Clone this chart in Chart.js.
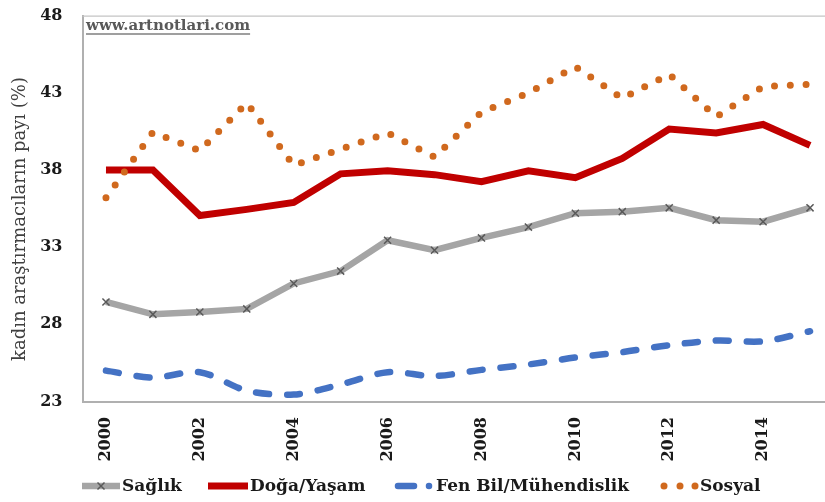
<!DOCTYPE html>
<html><head><meta charset="utf-8">
<script src="https://cdn.jsdelivr.net/npm/chart.js@4.4.0/dist/chart.umd.min.js"></script>
<style>
html,body{margin:0;padding:0;overflow:hidden;background:#fff;width:825px;height:502px}
#wrap{position:absolute;left:0;top:0;width:840px;height:502px}
canvas{display:block}
</style>
</head><body><div id="wrap"><canvas id="c" width="840" height="502"></canvas></div>
<script>
const years = ['2000','2001','2002','2003','2004','2005','2006','2007','2008','2009','2010','2011','2012','2013','2014','2015'];
const saglik = [29.45, 28.65, 28.8, 29.0, 30.65, 31.45, 33.45, 32.8, 33.6, 34.3, 35.2, 35.3, 35.55, 34.75, 34.65, 35.55];
const doga   = [38.0, 38.0, 35.05, 35.45, 35.9, 37.75, 37.95, 37.7, 37.25, 37.95, 37.5, 38.75, 40.65, 40.4, 40.95, 39.6];
const fen    = [25.0, 24.55, 24.9, 23.7, 23.45, 24.1, 24.9, 24.65, 25.05, 25.4, 25.85, 26.2, 26.65, 26.95, 26.9, 27.55];
const sosyal = [36.2, 40.45, 39.25, 42.35, 38.3, 39.35, 40.4, 38.85, 41.75, 43.0, 44.7, 42.65, 44.2, 41.45, 43.4, 43.55];
const yTicks = [23, 28, 33, 38, 43, 48];
const xTickLabels = ['2000','2002','2004','2006','2008','2010','2012','2014'];
const seriesNames = ['Sağlık','Doğa/Yaşam','Fen Bil/Mühendislik','Sosyal'];
const yTitle = 'kadın araştırmacıların payı (%)';
const watermark = 'www.artnotlari.com';

const SERIF = '"DejaVu Serif", "Liberation Serif", serif';
const COLORS = {gray:'#a5a5a5', mark:'#595959', red:'#c00000', blue:'#4472c4', orange:'#d0691e'};

const extras = {
  id: 'extras',
  afterDraw(chart) {
    const ctx = chart.ctx, a = chart.chartArea;
    ctx.save();
    // top border of plot area
    ctx.strokeStyle = '#c4c4c4'; ctx.lineWidth = 1.2;
    ctx.beginPath(); ctx.moveTo(a.left, a.top + 0.5); ctx.lineTo(a.right, a.top + 0.5); ctx.stroke();
    // y axis title
    ctx.save();
    ctx.translate(20, 219); ctx.rotate(-Math.PI / 2);
    ctx.font = '18px ' + SERIF; ctx.fillStyle = '#404040';
    ctx.textAlign = 'center'; ctx.textBaseline = 'middle';
    ctx.fillText(yTitle, 0, 0);
    ctx.restore();
    // watermark
    ctx.font = 'bold 15px ' + SERIF; ctx.fillStyle = '#595959';
    ctx.textAlign = 'left'; ctx.textBaseline = 'middle';
    ctx.fillText(watermark, 86, 26);
    const w = ctx.measureText(watermark).width;
    ctx.strokeStyle = '#7f7f7f'; ctx.lineWidth = 1.5;
    ctx.beginPath(); ctx.moveTo(86, 34); ctx.lineTo(86 + w, 34); ctx.stroke();
    // legend
    const ly = 486;
    ctx.lineCap = 'butt';
    // Sağlık
    ctx.strokeStyle = COLORS.gray; ctx.lineWidth = 6.5;
    ctx.beginPath(); ctx.moveTo(82, ly); ctx.lineTo(120, ly); ctx.stroke();
    ctx.strokeStyle = COLORS.mark; ctx.lineWidth = 1.5;
    ctx.beginPath(); ctx.moveTo(97.5, ly - 3.5); ctx.lineTo(104.5, ly + 3.5);
    ctx.moveTo(104.5, ly - 3.5); ctx.lineTo(97.5, ly + 3.5); ctx.stroke();
    // Doğa
    ctx.strokeStyle = COLORS.red; ctx.lineWidth = 7;
    ctx.beginPath(); ctx.moveTo(208, ly); ctx.lineTo(248, ly); ctx.stroke();
    // Fen
    ctx.strokeStyle = COLORS.blue; ctx.lineWidth = 6.5; ctx.lineCap = 'round';
    ctx.beginPath(); ctx.moveTo(398, ly); ctx.lineTo(414, ly); ctx.stroke();
    ctx.beginPath(); ctx.moveTo(429, ly); ctx.lineTo(429, ly); ctx.stroke();
    // Sosyal
    ctx.strokeStyle = COLORS.orange; ctx.lineWidth = 7;
    [664, 680, 695].forEach(x => { ctx.beginPath(); ctx.moveTo(x, ly); ctx.lineTo(x, ly); ctx.stroke(); });
    ctx.font = 'bold 17px ' + SERIF; ctx.fillStyle = '#1a1a1a';
    ctx.textAlign = 'left'; ctx.textBaseline = 'middle';
    const tx = [122, 250, 436, 700];
    seriesNames.forEach((n, i) => ctx.fillText(n, tx[i], ly + 1));
    ctx.restore();
  }
};

function noPad(s) { s.paddingTop = 0; s.paddingBottom = 0; s.paddingLeft = 0; s.paddingRight = 0; }

new Chart(document.getElementById('c'), {
  type: 'line',
  data: {
    labels: years,
    datasets: [
      {label: seriesNames[0], data: saglik, borderColor: COLORS.gray, borderWidth: 6.5,
       pointStyle: 'crossRot', pointRadius: 5, pointBorderColor: COLORS.mark, pointBorderWidth: 1.5,
       pointBackgroundColor: COLORS.mark, tension: 0, order: 2},
      {label: seriesNames[1], data: doga, borderColor: COLORS.red, borderWidth: 7,
       pointRadius: 0, tension: 0, order: 3},
      {label: seriesNames[2], data: fen, borderColor: COLORS.blue, borderWidth: 6.5,
       borderDash: [13, 18], borderCapStyle: 'round', pointRadius: 0, tension: 0.3, order: 4},
      {label: seriesNames[3], data: sosyal, borderColor: COLORS.orange, borderWidth: 7,
       borderDash: [0, 15.8], borderCapStyle: 'round', pointRadius: 0, tension: 0, order: 1}
    ]
  },
  options: {
    responsive: false,
    animation: false,
    devicePixelRatio: 1,
    layout: {padding: {left: 0, right: 4.5, top: 15.7, bottom: 0}},
    plugins: {legend: {display: false}, tooltip: {enabled: false}},
    scales: {
      x: {
        offset: true,
        grid: {display: false, drawTicks: false},
        border: {display: true, color: '#b0b0b0', width: 2},
        ticks: {
          autoSkip: false, minRotation: 90, maxRotation: 90, padding: 15.5,
          color: '#1a1a1a', font: {family: SERIF, size: 16, weight: 'bold'},
          callback: function(v, i) { return xTickLabels.includes(years[i]) ? years[i] : ''; }
        },
        afterFit(s) { s.height = 100.5; noPad(s); }
      },
      y: {
        min: 23, max: 48,
        grid: {display: false, drawTicks: false},
        border: {display: true, color: '#b0b0b0', width: 2},
        afterBuildTicks(s) { s.ticks = yTicks.map(v => ({value: v})); },
        ticks: {padding: 20, color: '#1a1a1a', font: {family: SERIF, size: 16, weight: 'bold'}},
        afterFit(s) { s.width = 82.5; noPad(s); }
      }
    }
  },
  plugins: [extras]
});
</script>
</body></html>
